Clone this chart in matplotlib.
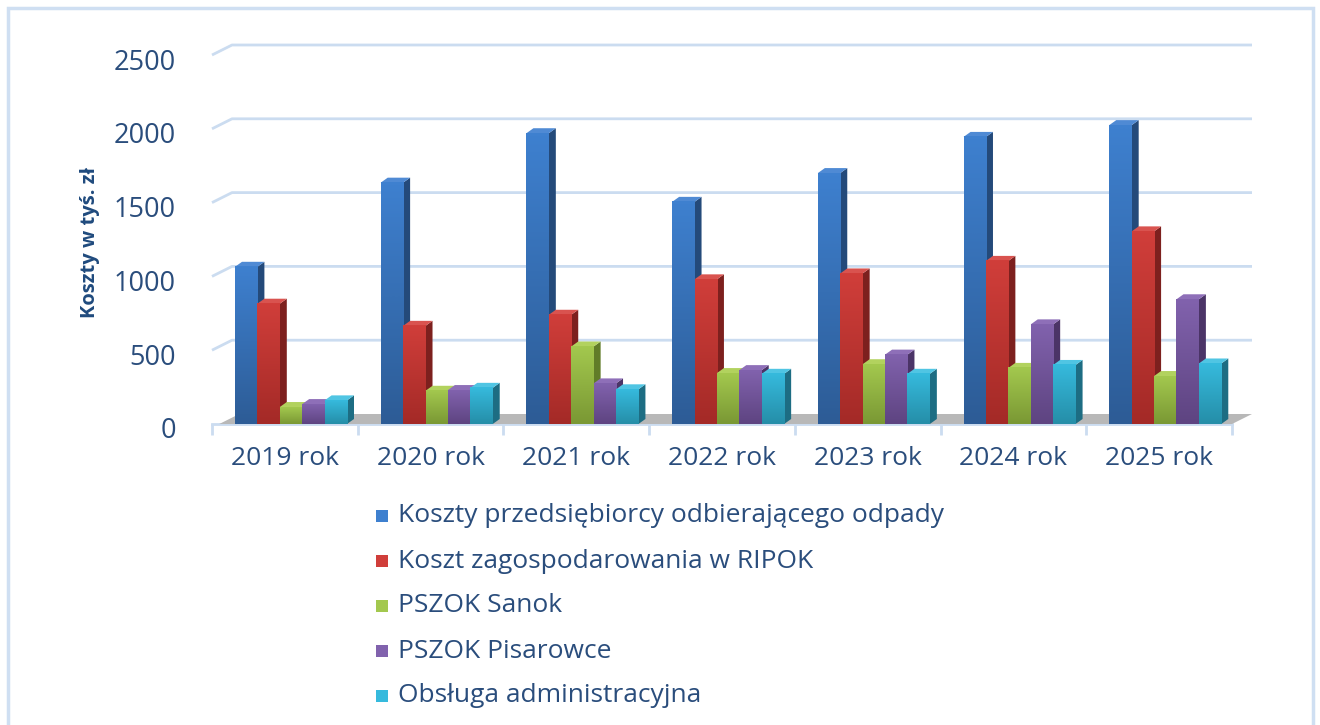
import numpy as np
import matplotlib
matplotlib.use('Agg')
import matplotlib.pyplot as plt
import matplotlib.transforms as mtransforms
from matplotlib.patches import Polygon, Rectangle
from matplotlib.colors import LinearSegmentedColormap

# ── dane ──
years = ['2019 rok', '2020 rok', '2021 rok', '2022 rok', '2023 rok', '2024 rok', '2025 rok']
series = ['Koszty przedsiębiorcy odbierającego odpady',
          'Koszt zagospodarowania w RIPOK',
          'PSZOK Sanok',
          'PSZOK Pisarowce',
          'Obsługa administracyjna']
koszty_przedsiebiorcy = [1065, 1635, 1970, 1505, 1700, 1945, 2025]
koszt_ripok = [815, 665, 740, 980, 1020, 1105, 1305]
pszok_sanok = [115, 225, 525, 345, 405, 380, 325]
pszok_pisarowce = [135, 230, 275, 365, 470, 675, 845]
obsluga_adm = [160, 245, 235, 340, 340, 400, 410]
values = [koszty_przedsiebiorcy, koszt_ripok, pszok_sanok, pszok_pisarowce, obsluga_adm]

# kolory: (dół, góra, bok, wierzch)
colors = [('#2d5c96', '#3e80cf', '#244a7a', '#4f8ad4'),
          ('#a42a27', '#d03e3a', '#7d201e', '#d9534f'),
          ('#7a9834', '#a3c84e', '#617c28', '#b2d25e'),
          ('#5e4481', '#8162ad', '#4b3467', '#8e6fb8'),
          ('#258ea8', '#36badd', '#1d6d83', '#50c5e3')]

TXT = '#2a4d7c'
GRID = '#cbdcf0'
FS = 19
W, H = 1320, 725
plt.rcParams['font.family'] = ['Open Sans', 'DejaVu Sans']

fig = plt.figure(figsize=(W / 100, H / 100), dpi=100)
# osie: x -0.5..6.5 -> px 212..1232, y 0..2500 -> px 424..55
ax = fig.add_axes([212 / W, 1 - 424 / H, 1020 / W, 369 / H])
PXX = 1020 / 7
PXY = 369 / 2500
dxw, dyw = 20 / PXX, 10 / PXY     # przesunięcie ściany tylnej
dxb, dyb = 7 / PXX, 5 / PXY       # głębokość słupka
bw = 22.4 / PXX
g0 = (235 - 212) / PXX - 0.5

# siatka na tylnej ścianie
for v in range(500, 2501, 500):
    ax.plot([-0.5, -0.5 + dxw, 6.5 + dxw], [v, v + dyw, v + dyw],
            color=GRID, lw=2, clip_on=False, zorder=1, solid_capstyle='butt')
# podłoga
ax.add_patch(Polygon([(-0.45, 0), (6.5, 0), (6.5 + dxw, dyw), (-0.45 + dxw, dyw)],
                     closed=True, facecolor='#b8b8b8', edgecolor='none',
                     clip_on=False, zorder=2))

z = 3
for i in range(len(years)):
    for k, vals in enumerate(values):
        v = vals[i]
        x0 = i + g0 + k * bw
        x1 = x0 + bw
        bot, top, side, lid = colors[k]
        ax.add_patch(Polygon([(x1, 0), (x1 + dxb, dyb), (x1 + dxb, v + dyb), (x1, v)],
                             closed=True, facecolor=side, edgecolor='none',
                             clip_on=False, zorder=z))
        ax.add_patch(Polygon([(x0, v), (x0 + dxb, v + dyb), (x1 + dxb, v + dyb), (x1, v)],
                             closed=True, facecolor=lid, edgecolor='none',
                             clip_on=False, zorder=z))
        cmap = LinearSegmentedColormap.from_list('g%d' % k, [bot, top])
        ax.imshow(np.linspace(0, 1, 64).reshape(-1, 1), cmap=cmap, origin='lower',
                  extent=[x0, x1, 0, v], aspect='auto', zorder=z + 0.5,
                  interpolation='bilinear')
        z += 1

ax.set_xlim(-0.5, 6.5)
ax.set_ylim(0, 2500)

for s in ['top', 'right', 'left']:
    ax.spines[s].set_visible(False)
ax.spines['bottom'].set_color(GRID)
ax.spines['bottom'].set_linewidth(2)
ax.spines['bottom'].set_zorder(1)
ax.patch.set_visible(False)

ax.set_xticks(range(len(years)))
ax.set_xticklabels(years, fontsize=FS, color=TXT)
ax.set_xticks(np.arange(-0.5, 7, 1), minor=True)
ax.tick_params(axis='x', which='major', length=0, pad=16)
ax.tick_params(axis='x', which='minor', length=8, width=2, color=GRID)
ax.set_yticks(range(0, 2501, 500))
ax.set_yticklabels([str(v) for v in range(0, 2501, 500)], fontsize=FS + 0.5, color=TXT)
ax.tick_params(axis='y', length=0, pad=26)
shift = mtransforms.ScaledTranslation(0, -4 / 100, fig.dpi_scale_trans)
for lab in ax.get_yticklabels():
    lab.set_transform(lab.get_transform() + shift)

fig.text(90 / W, 1 - 242 / H, 'Koszty w tyś. zł', rotation=90, ha='center',
         va='center', fontsize=14.5, fontweight='bold', color='#1f4a7d')

# legenda
for k, name in enumerate(series):
    yc = 516 + 45 * k
    fig.patches.append(Rectangle((376 / W, 1 - (yc + 6) / H), 12 / W, 12 / H,
                                 transform=fig.transFigure, facecolor=colors[k][1],
                                 edgecolor='none'))
    fig.text(398 / W, 1 - yc / H, name, ha='left', va='center', fontsize=FS, color=TXT)

# ramka wykresu
fig.patches.append(Rectangle((8 / W, -0.05), 1305 / W, 1 - 8 / H + 0.05,
                             transform=fig.transFigure, facecolor='none',
                             edgecolor='#cfdff2', lw=2.5))

fig.savefig('out.png', dpi=100)
